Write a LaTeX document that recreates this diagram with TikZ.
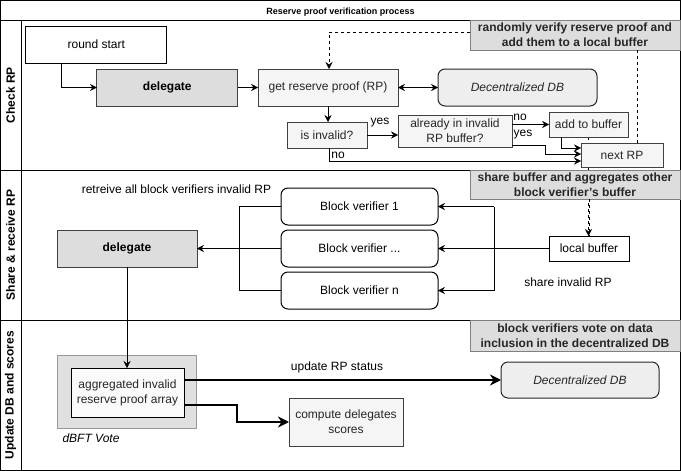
\documentclass[tikz,border=0pt]{standalone}
\usepackage{fontspec}
\setmainfont{Liberation Sans}
\usetikzlibrary{arrows.meta}
\pgfdeclarelayer{background}
\pgfsetlayers{background,main}
\definecolor{cgfill}{HTML}{F5F5F5}
\definecolor{cgdraw}{HTML}{404040}
\definecolor{ctext}{HTML}{262626}
\definecolor{cdel}{HTML}{DDDDDD}
\definecolor{cdb}{HTML}{EEEEEE}
\definecolor{ccall}{HTML}{DDDDDD}
\definecolor{ccalld}{HTML}{808080}
\definecolor{cgrp}{HTML}{E0E0E0}
\definecolor{cgrpd}{HTML}{999999}
\begin{document}
\begin{tikzpicture}[x=1pt,y=-1pt, line width=1pt,
  font=\fontsize{12}{15}\selectfont,
  base/.style={inner sep=0pt, outer sep=0pt, align=center},
  wbox/.style={base, draw=black, fill=white},
  gbox/.style={base, draw=cgdraw, fill=cgfill, text=ctext},
  delbox/.style={base, draw=cgdraw, fill=cdel, font=\fontsize{12}{15}\selectfont\bfseries},
  dbbox/.style={base, draw=ctext, fill=cdb, rounded corners=7pt, text=ctext, font=\fontsize{12}{15}\selectfont\itshape},
  bvbox/.style={base, draw=black, fill=white, rounded corners=7pt},
  callbox/.style={base, draw=ccalld, fill=ccall, text=ctext, font=\fontsize{12}{15}\selectfont\bfseries},
  lanelbl/.style={rotate=90, font=\fontsize{12}{15}\selectfont\bfseries},
  lbl/.style={inner sep=0pt},
  arr/.style={-{Stealth[length=7pt,width=7pt,inset=2.5pt]}},
  darr/.style={{Stealth[length=7pt,width=7pt,inset=2.5pt]}-{Stealth[length=7pt,width=7pt,inset=2.5pt]}},
  tarr/.style={line width=2pt,-{Stealth[length=11pt,width=11pt,inset=3.5pt]}},
  dsh/.style={dash pattern=on 3pt off 3pt}
]
\useasboundingbox (0,0) rectangle (681,471);
% frame
\draw (0.5,0.5) rectangle (680.5,470.5);
\draw (0.5,20) -- (680.5,20);
\draw (21,20) -- (21,470.5);
\draw (0.5,170) -- (680.5,170);
\draw (0.5,320) -- (680.5,320);
\node[font=\fontsize{9}{11}\selectfont\bfseries] (title) at (340.5,12) {Reserve proof verification process};
\node[lanelbl] (lane1) at (10.5,95) {Check RP};
\node[lanelbl] (lane2) at (10.5,245) {Share \& receive RP};
\node[lanelbl] (lane3) at (10.5,395) {Update DB and scores};

% lane 1
\node[wbox, minimum width=140.7pt, minimum height=37pt] (rs) at (96.3,44.5) {round start};
\node[delbox, minimum width=140.7pt, minimum height=37pt] (del1) at (167.3,87.5) {delegate};
\node[gbox, minimum width=140pt, minimum height=37pt] (grp) at (328,87.5) {get reserve proof (RP)};
\node[dbbox, minimum width=159pt, minimum height=37pt] (db1) at (517.5,87.5) {Decentralized DB};
\node[gbox, minimum width=80pt, minimum height=26pt] (inv) at (327,135) {is invalid?};
\node[gbox, minimum width=114pt, minimum height=32pt] (already) at (455,131) {already in invalid\\RP buffer?};
\node[gbox, minimum width=79pt, minimum height=25pt] (addb) at (588.5,124.5) {add to buffer};
\node[gbox, minimum width=82pt, minimum height=24.5pt] (next) at (622,155.5) {next RP};
\node[callbox, minimum width=210pt, minimum height=30pt] (call1) at (575,35) {randomly verify reserve proof and\\add them to a local buffer};

% lane 2
\node[bvbox, minimum width=157pt, minimum height=37pt] (bv1) at (359.5,206.5) {Block verifier 1};
\node[bvbox, minimum width=157pt, minimum height=37pt] (bvd) at (359.5,248.5) {Block verifier ...};
\node[bvbox, minimum width=157pt, minimum height=37pt] (bvn) at (359.5,290.5) {Block verifier n};
\node[delbox, minimum width=140pt, minimum height=37pt] (del2) at (127,248.5) {delegate};
\node[wbox, minimum width=80pt, minimum height=25pt] (lbuf) at (589,248.5) {local buffer};
\node[callbox, minimum width=210pt, minimum height=29pt] (call2) at (575,184.5) {share buffer and aggregates other\\block verifier's buffer};
\node[lbl] (retr) at (176.5,189) {retreive all block verifiers invalid RP};
\node[lbl] (share) at (568,282) {share invalid RP};

% lane 3
\node[base, draw=cgrpd, fill=cgrp, minimum width=139pt, minimum height=73pt] (grpbox) at (126.5,391.5) {};
\node[wbox, fill=cgfill!50!white, text=ctext, minimum width=113pt, minimum height=49pt] (agg) at (127.5,392.5) {aggregated invalid\\reserve proof array};
\node[lbl, font=\fontsize{12}{15}\selectfont\itshape] (dbft) at (91,438) {dBFT Vote};
\node[gbox, minimum width=114pt, minimum height=48pt] (comp) at (346,422) {compute delegates\\scores};
\node[dbbox, minimum width=158pt, minimum height=36pt] (db2) at (580,380) {Decentralized DB};
\node[callbox, minimum width=210pt, minimum height=31pt] (call3) at (575,335.5) {block verifiers vote on data\\inclusion in the decentralized DB};
\node[lbl] (upd) at (337,367) {update RP status};

% background dashed connector
\begin{pgfonlayer}{background}
\draw[dsh, arr] (addb.south) -- (addb.south |- lbuf.north);
\end{pgfonlayer}

% connectors lane 1
\draw[arr] ([xshift=35pt]rs.south west) |- (del1.west);
\draw[arr] (del1.east) -- (grp.west);
\draw[darr] (grp.east) -- (db1.west);
\draw[arr] (grp.south) -- (grp.south |- inv.north);
\draw[arr] (inv.east) -- (inv.east -| already.west);
\node[lbl] (yes1) at (380,123) {yes};
\draw[arr] ([yshift=6.5pt]already.east) -- (addb.west);
\node[lbl] (no2) at (520,117) {no};
\draw[arr] ([yshift=-14pt]already.east) -- ++(33,0) |- ([yshift=1.5pt]next.west);
\node[lbl] (yes2) at (523,135) {yes};
\draw[arr] ([xshift=2pt]inv.south) |- ([yshift=-5.5pt]next.west);
\node[lbl] (no1) at (338,155) {no};
\draw[arr] ([xshift=-27.5pt]addb.south) |- ([yshift=7.5pt]next.west);
\draw[dsh, arr] ([yshift=3pt]call1.west) -| ([xshift=1pt]grp.north);
\draw[dsh] ([xshift=62pt]call1.south) -- ([xshift=15pt]next.north);

% connectors lane 2
\coordinate (lj) at ([xshift=-42pt]bv1.west);
\coordinate (rj) at ([xshift=-55pt]lbuf.west);
\draw (bv1.west) -- (lj) -- (lj |- bvn.west) -- (bvn.west);
\draw[arr] (bvd.west) -- (del2.east);
\draw[arr] (lbuf.west) -- (bvd.east);
\draw (rj |- bv1.east) -- (rj |- bvn.east);
\draw[arr] (rj |- bv1.east) -- (bv1.east);
\draw[arr] (rj |- bvn.east) -- (bvn.east);
\draw[dsh] (call2.south -| lbuf.north) -- (lbuf.north);

% connectors lane 3
\draw[arr] (del2.south) -- (del2.south |- agg.north);
\draw[tarr] ([yshift=12.5pt]agg.east) -- (db2.west);
\draw[tarr] ([yshift=-12.5pt]agg.east) -- ++(53,0) |- (comp.west);
\end{tikzpicture}
\end{document}
